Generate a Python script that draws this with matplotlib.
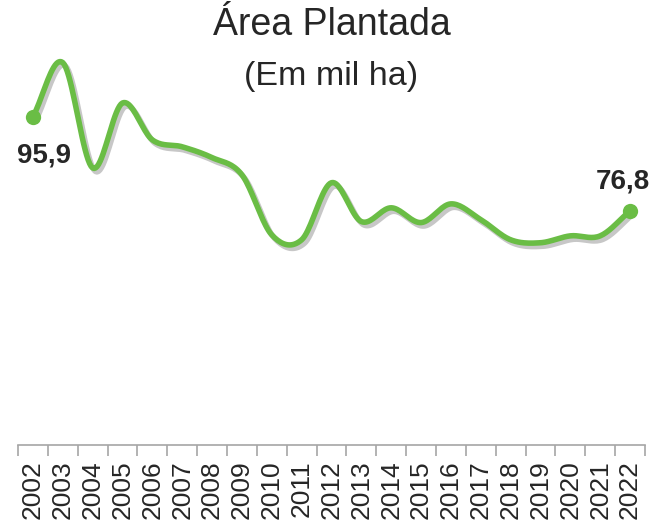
import numpy as np
import matplotlib
matplotlib.use("Agg")
import matplotlib.pyplot as plt
import matplotlib.patheffects as pe

plt.rcParams['font.family'] = ['Liberation Sans', 'DejaVu Sans']

years = list(range(2002, 2023))
area = [95.9, 106.9, 85.5, 98.7, 91.2, 89.8, 87.6, 84.1, 71.9, 70.9, 82.5,
        74.6, 77.4, 74.4, 78.2, 75.0, 70.9, 70.3, 71.7, 71.7, 76.8]
first_label = "95,9"
last_label = "76,8"

GREEN = "#6abd45"
TEXT = "#262626"


def smooth(x, y, n=20):
    # catmull-rom, like a spreadsheet "smoothed line"
    x = np.asarray(x, float)
    y = np.asarray(y, float)
    px = np.concatenate([[2 * x[0] - x[1]], x, [2 * x[-1] - x[-2]]])
    py = np.concatenate([[2 * y[0] - y[1]], y, [2 * y[-1] - y[-2]]])
    xs, ys = [], []
    t = np.linspace(0, 1, n, endpoint=False)
    for i in range(1, len(px) - 2):
        for p, out in ((px, xs), (py, ys)):
            p0, p1, p2, p3 = p[i - 1], p[i], p[i + 1], p[i + 2]
            out.extend(0.5 * ((2 * p1) + (-p0 + p2) * t
                              + (2 * p0 - 5 * p1 + 4 * p2 - p3) * t ** 2
                              + (-p0 + 3 * p1 - 3 * p2 + p3) * t ** 3))
    xs.append(x[-1])
    ys.append(y[-1])
    return np.array(xs), np.array(ys)


fig = plt.figure(figsize=(6.63, 5.24), dpi=100)
ax = fig.add_axes([18 / 663, 79 / 524, 627 / 663, 405 / 524])

idx = np.arange(len(years))
sx, sy = smooth(idx, area)
shadow = [pe.SimpleLineShadow(offset=(2, -2.5), shadow_color="#999999", alpha=0.55), pe.Normal()]
ax.plot(sx, sy, color=GREEN, lw=4, solid_capstyle="round", path_effects=shadow)
ax.plot([idx[0], idx[-1]], [area[0], area[-1]], "o", color=GREEN, ms=11, mew=0)

ax.annotate(first_label, (idx[0], area[0]), xytext=(8, -28), textcoords="offset points",
            ha="center", va="center", fontsize=20, fontweight="bold", color=TEXT)
ax.annotate(last_label, (idx[-1], area[-1]), xytext=(-5, 21), textcoords="offset points",
            ha="center", va="center", fontsize=20, fontweight="bold", color=TEXT)

ax.set_xlim(-0.5, len(years) - 0.5)
ax.set_ylim(29.2, 111.5)
ax.set_yticks([])
for s in ["top", "right", "left"]:
    ax.spines[s].set_visible(False)
ax.spines["bottom"].set_color("#a6a6a6")
ax.spines["bottom"].set_linewidth(1.2)

ax.set_xticks(idx)
ax.set_xticklabels([str(y) for y in years], rotation=90, fontsize=19, color=TEXT)
ax.tick_params(axis="x", which="major", length=0, pad=11)
ax.set_xticks(np.arange(len(years) + 1) - 0.5, minor=True)
ax.tick_params(axis="x", which="minor", length=8, width=1.2, color="#a6a6a6")

fig.text(0.5, 1 - 25 / 524, "Área Plantada", ha="center", va="center", fontsize=27, color=TEXT)
fig.text(0.5, 1 - 77 / 524, "(Em mil ha)", ha="center", va="center", fontsize=24.5, color=TEXT)

fig.savefig("out.png", dpi=100)
